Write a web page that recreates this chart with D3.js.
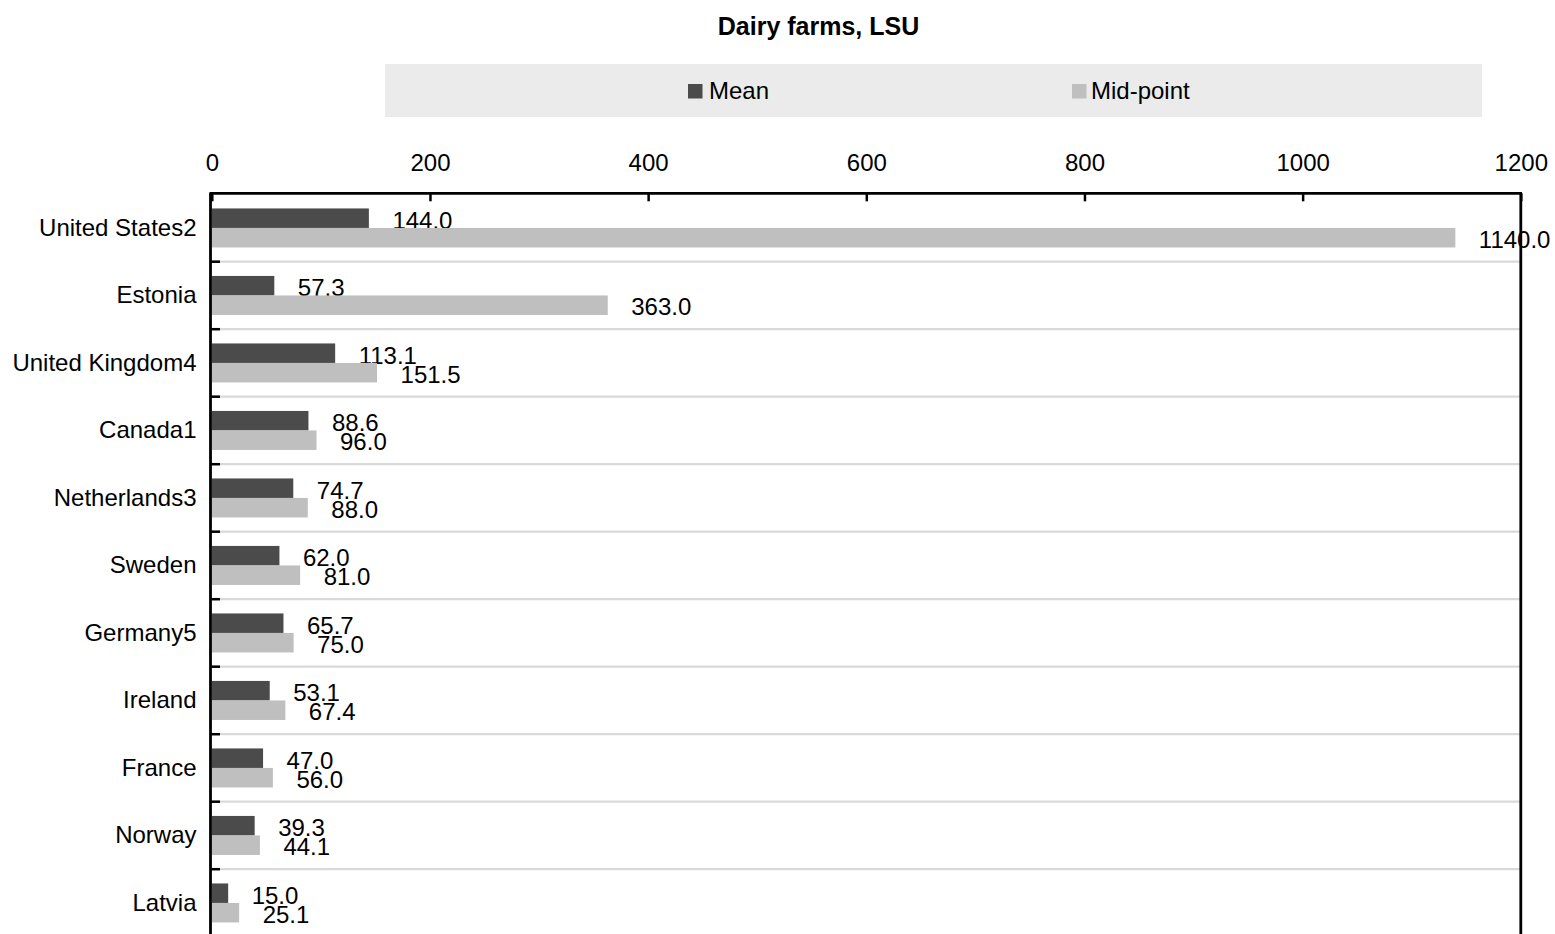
<!DOCTYPE html>
<html>
<head>
<meta charset="utf-8">
<script src="https://cdn.jsdelivr.net/npm/d3@7/dist/d3.min.js"></script>
<style>
  html, body { margin: 0; padding: 0; background: #fff; }
  svg { display: block; font-family: "Liberation Sans", Arial, sans-serif; }
</style>
</head>
<body>
<svg id="chart" width="1555" height="934"></svg>
<script>
const categories = ["United States2", "Estonia", "United Kingdom4", "Canada1", "Netherlands3", "Sweden", "Germany5", "Ireland", "France", "Norway", "Latvia"];
const meanValues = [144.0, 57.3, 113.1, 88.6, 74.7, 62.0, 65.7, 53.1, 47.0, 39.3, 15.0];
const midValues = [1140.0, 363.0, 151.5, 96.0, 88.0, 81.0, 75.0, 67.4, 56.0, 44.1, 25.1];
const seriesNames = ["Mean", "Mid-point"];
const tickValues = [0, 200, 400, 600, 800, 1000, 1200];
const titleText = "Dairy farms, LSU";

const colors = { "Mean": "#4b4b4b", "Mid-point": "#bfbfbf" };

const svg = d3.select("#chart");

const x = d3.scaleLinear().domain([0, 1200]).range([211.8, 1520.8]);
const y = d3.scaleBand().domain(categories).range([194.2, 936.7]).padding(0);
const bw = y.bandwidth();
const bh = bw * 0.289;

// Title
svg.append("text")
  .attr("x", 818.5).attr("y", 35)
  .attr("text-anchor", "middle")
  .attr("font-size", 25).attr("font-weight", "bold")
  .attr("fill", "#000")
  .text(titleText);

// Legend
svg.append("rect").attr("x", 385).attr("y", 64).attr("width", 1097).attr("height", 53).attr("fill", "#ebebeb");
const legendPos = [{ sq: 688, tx: 709 }, { sq: 1072, tx: 1091 }];
seriesNames.forEach((s, i) => {
  svg.append("rect").attr("x", legendPos[i].sq).attr("y", 84).attr("width", 14.5).attr("height", 14.5).attr("fill", colors[s]);
  svg.append("text").attr("x", legendPos[i].tx).attr("y", 98.5).attr("font-size", 24).attr("fill", "#000").text(s);
});

// Gridlines at row boundaries
const plot = svg.append("g");
plot.selectAll("line.grid")
  .data(categories.slice(0, categories.length))
  .join("line")
  .attr("class", "grid")
  .attr("x1", x(0)).attr("x2", x(1200))
  .attr("y1", d => y(d) + bw).attr("y2", d => y(d) + bw)
  .attr("stroke", "#d9d9d9").attr("stroke-width", 2.3);

const rows = categories.map((c, i) => ({ c, mean: meanValues[i], mid: midValues[i] }));

// Mean bars and labels
plot.selectAll("rect.mean").data(rows).join("rect")
  .attr("class", "mean")
  .attr("x", x(0)).attr("width", d => x(d.mean) - x(0))
  .attr("y", d => y(d.c) + bw / 2 - bh).attr("height", bh)
  .attr("fill", colors["Mean"]);
plot.selectAll("text.meanLab").data(rows).join("text")
  .attr("class", "meanLab")
  .attr("x", d => x(d.mean) + 23.5)
  .attr("y", d => y(d.c) + bw / 2 + 1)
  .attr("font-size", 24).attr("fill", "#000")
  .text(d => d.mean.toFixed(1));

// Mid-point bars and labels
plot.selectAll("rect.mid").data(rows).join("rect")
  .attr("class", "mid")
  .attr("x", x(0)).attr("width", d => x(d.mid) - x(0))
  .attr("y", d => y(d.c) + bw / 2).attr("height", bh)
  .attr("fill", colors["Mid-point"]);
plot.selectAll("text.midLab").data(rows).join("text")
  .attr("class", "midLab")
  .attr("x", d => x(d.mid) + 23.5)
  .attr("y", d => y(d.c) + bw / 2 + bh + 0.5)
  .attr("font-size", 24).attr("fill", "#000")
  .text(d => d.mid.toFixed(1));

// Top axis
const topAxis = svg.append("g")
  .attr("transform", "translate(0,193.3)")
  .call(d3.axisTop(x).tickValues(tickValues).tickFormat(d3.format("d")).tickSizeInner(-8).tickSizeOuter(0).tickPadding(22));
topAxis.select(".domain").remove();
topAxis.selectAll(".tick line").attr("stroke", "#000").attr("stroke-width", 2.5);
topAxis.selectAll(".tick text").attr("font-size", 24).attr("fill", "#000").attr("font-family", "Liberation Sans, Arial, sans-serif");

// Left axis (category labels)
const leftAxis = svg.append("g")
  .attr("transform", "translate(210.5,0)")
  .call(d3.axisLeft(y).tickSize(0).tickPadding(14));
leftAxis.select(".domain").remove();
leftAxis.selectAll(".tick text").attr("font-size", 24).attr("fill", "#000").attr("font-family", "Liberation Sans, Arial, sans-serif");

// Left ticks at row boundaries
svg.selectAll("line.ltick").data(categories).join("line")
  .attr("class", "ltick")
  .attr("x1", 210.5).attr("x2", 220)
  .attr("y1", d => y(d) + bw).attr("y2", d => y(d) + bw)
  .attr("stroke", "#000").attr("stroke-width", 2.5);

// Frame lines
const yTop = 193.3, yBot = 960;
svg.append("line").attr("x1", 209.5).attr("x2", x(1200) + 1.2).attr("y1", yTop).attr("y2", yTop).attr("stroke", "#000").attr("stroke-width", 2.8);
svg.append("line").attr("x1", 210.5).attr("x2", 210.5).attr("y1", yTop).attr("y2", yBot).attr("stroke", "#000").attr("stroke-width", 2.8);
svg.append("line").attr("x1", x(1200)).attr("x2", x(1200)).attr("y1", yTop).attr("y2", yBot).attr("stroke", "#000").attr("stroke-width", 2.8);
</script>
</body>
</html>
